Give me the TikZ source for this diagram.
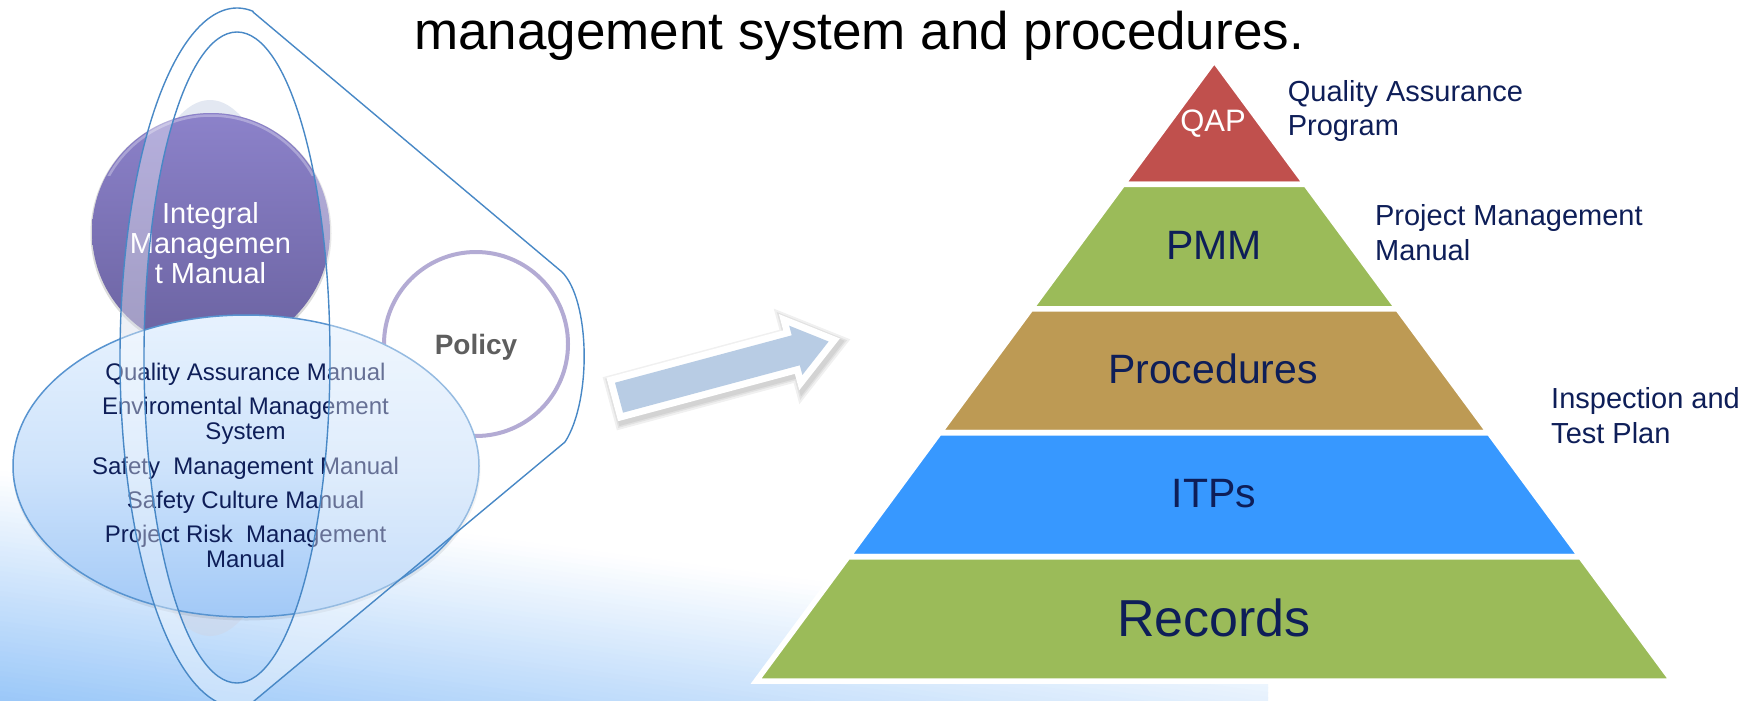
\documentclass[tikz,border=0pt]{standalone}
\usepackage{fontspec}
\setmainfont{Liberation Sans}

\definecolor{txtnavy}{RGB}{14,30,88}
\definecolor{bgblue}{RGB}{150,197,248}
\definecolor{sphtop}{RGB}{140,130,202}
\definecolor{sphbot}{RGB}{106,98,160}
\definecolor{ringpurple}{RGB}{136,123,187}
\definecolor{elltop}{RGB}{231,242,254}
\definecolor{ellmid}{RGB}{206,227,251}
\definecolor{ellbot}{RGB}{162,201,247}
\definecolor{ellline}{RGB}{88,148,208}
\definecolor{bandline}{RGB}{72,136,198}
\definecolor{arrowblue}{RGB}{184,204,228}
\definecolor{qapred}{RGB}{192,80,77}
\definecolor{lvlgreen}{RGB}{155,187,89}
\definecolor{lvltan}{RGB}{189,154,84}
\definecolor{lvlblue}{RGB}{55,152,255}
\definecolor{haze}{RGB}{205,214,232}

\newcommand\pxfont[1]{\fontsize{#1}{#1}\selectfont}
\newcommand\blockarrowpath{(0,0) -- (183,0) -- (183,-10) -- (217,15.5) -- (183,41) -- (183,31) -- (0,31) -- cycle}

\tikzset{
  txt/.style={inner sep=0pt, anchor=base},
  ltxt/.style={inner sep=0pt, anchor=base west},
  listtxt/.style={txt, text=txtnavy, font=\pxfont{24}},
  sidetxt/.style={ltxt, text=txtnavy, font=\pxfont{29}},
  lvltxt/.style={txt, text=txtnavy, font=\pxfont{41}},
  pyrlayer/.style={draw=white, line width=5.6, line join=miter},
  bandline/.style={draw=bandline, line width=1.4},
}

\begin{document}
\begin{tikzpicture}[x=1pt,y=-1pt]
\fill[white] (0,0) rectangle (1758,701);
\useasboundingbox (0,0) rectangle (1758,701);

% soft blue wash in the lower left corner
\begin{scope}
  \clip (0,0) rectangle (1268,701);
  \foreach \i in {0,...,48} {
    \pgfmathsetmacro{\sa}{471+5*\i}
    \pgfmathsetmacro{\sb}{\sa+5.8}
    \pgfmathsetmacro{\sc}{\sa+171.2}
    \pgfmathsetmacro{\sd}{\sb+171.2}
    \pgfmathsetmacro{\p}{min(100,(\sa+2.5-471)/241*100)}
    \fill[bgblue!\p!white] (0,\sa) -- (1268,\sc) -- (1268,\sd) -- (0,\sb) -- cycle;
  }
\end{scope}

% faint halo behind the sphere
\fill[haze, opacity=.55] (210,368) ellipse [x radius=90, y radius=268];

% purple sphere
\fill[black, opacity=.14] (211,233.5) circle (120.5);
\shade[top color=sphtop, bottom color=sphbot] (211,232) circle (119);
\begin{scope}
  \clip (80,100) rectangle (345,175);
  \draw[white, opacity=.3, line width=2.5] (211,232) circle (116.5);
\end{scope}
\node[txt, text=white, font=\pxfont{29}] (im1) at (210.5,223) {Integral};
\node[txt, text=white, font=\pxfont{29}] (im2) at (210.5,253) {Managemen};
\node[txt, text=white, font=\pxfont{29}] (im3) at (210.5,283) {t Manual};

% policy circle
\draw[ringpurple, line width=4, fill=white] (476,344) circle (92);
\node[txt, font=\bfseries\pxfont{28}, text=black] (policy) at (476,354) {Policy};

% big ellipse with the manuals
\fill[black, opacity=.07] (246.5,469) ellipse [x radius=234, y radius=151.5];
\path[top color=elltop, bottom color=ellbot, middle color=ellmid, draw=ellline, line width=1.5]
  (246,466) ellipse [x radius=233, y radius=151];
\node[listtxt] (m1) at (245.5,380) {Quality Assurance Manual};
\node[listtxt] (m2) at (245.5,414) {Enviromental Management};
\node[listtxt] (m3) at (245.5,439) {System};
\node[listtxt] (m4) at (245.5,474) {Safety~~Management Manual};
\node[listtxt] (m5) at (245.5,508) {Safety Culture Manual};
\node[listtxt] (m6) at (245.5,542) {Project Risk~~Management};
\node[listtxt] (m7) at (245.5,567) {Manual};

% translucent band: outer outline minus the inner ellipse
\path[fill=white, fill opacity=.37, even odd rule]
  (253,12) -- (562,272) .. controls (590,300) and (592,400) .. (565,442) -- (249,705.2)
  -- plot[domain=84.1:277.9, samples=140, variable=\t] ({237+117*cos(\t)},{357.5+349.5*sin(\t)}) -- cycle
  (237,357.5) ellipse [x radius=93, y radius=325.5];
\path[bandline, line join=round]
  (253,12) -- (562,272) .. controls (590,300) and (592,400) .. (565,442) -- (249,705.2)
  -- plot[domain=84.1:277.9, samples=140, variable=\t] ({237+117*cos(\t)},{357.5+349.5*sin(\t)}) -- cycle;
\path[bandline] (237,357.5) ellipse [x radius=93, y radius=325.5];

% block arrow with a soft shadow and a white rim
\begin{scope}[shift={(615,382.7)}, rotate=15]
  \foreach \w in {24,20,17} {
    \path[draw=black, line width=\w, line join=miter, opacity=.06, shift={(1.5,3.5)}] \blockarrowpath;
  }
  \path[draw=white, line width=14, line join=miter] \blockarrowpath;
  \path[fill=arrowblue] \blockarrowpath;
\end{scope}

% pyramid
\path[pyrlayer, fill=qapred] (1214.3,60.3) -- (1305.9,184.4) -- (1122.7,184.4) -- cycle;
\path[pyrlayer, fill=lvlgreen] (1122.7,184.4) -- (1305.9,184.4) -- (1397.8,308.9) -- (1030.8,308.9) -- cycle;
\path[pyrlayer, fill=lvltan] (1030.8,308.9) -- (1397.8,308.9) -- (1489.2,432.75) -- (939.4,432.75) -- cycle;
\path[pyrlayer, fill=lvlblue] (939.4,432.75) -- (1489.2,432.75) -- (1580.6,556.7) -- (848.0,556.7) -- cycle;
\path[pyrlayer, fill=lvlgreen] (848.0,556.7) -- (1580.6,556.7) -- (1672.5,681.1) -- (756.1,681.1) -- cycle;

\node[txt, text=white, font=\pxfont{31}] (qap) at (1213,131.7) {QAP};
\node[lvltxt] (pmm) at (1214,259.3) {PMM};
\node[lvltxt] (proc) at (1213,383.3) {Procedures};
\node[lvltxt] (itps) at (1214,507.3) {ITPs};
\node[txt, text=txtnavy, font=\pxfont{52}] (rec) at (1214,636) {Records};

\node[sidetxt] (qapa) at (1287.6,101.7) {Quality Assurance};
\node[sidetxt] (qapb) at (1287.6,135) {Program};
\node[sidetxt] (pmma) at (1374.9,225) {Project Management};
\node[sidetxt] (pmmb) at (1374.9,260) {Manual};
\node[sidetxt] (itpa) at (1551,408.3) {Inspection and};
\node[sidetxt] (itpb) at (1551,443.3) {Test Plan};

% heading line
\node[ltxt, font=\pxfont{53}, text=black] (title) at (414,50) {management system and procedures.};
\end{tikzpicture}
\end{document}
